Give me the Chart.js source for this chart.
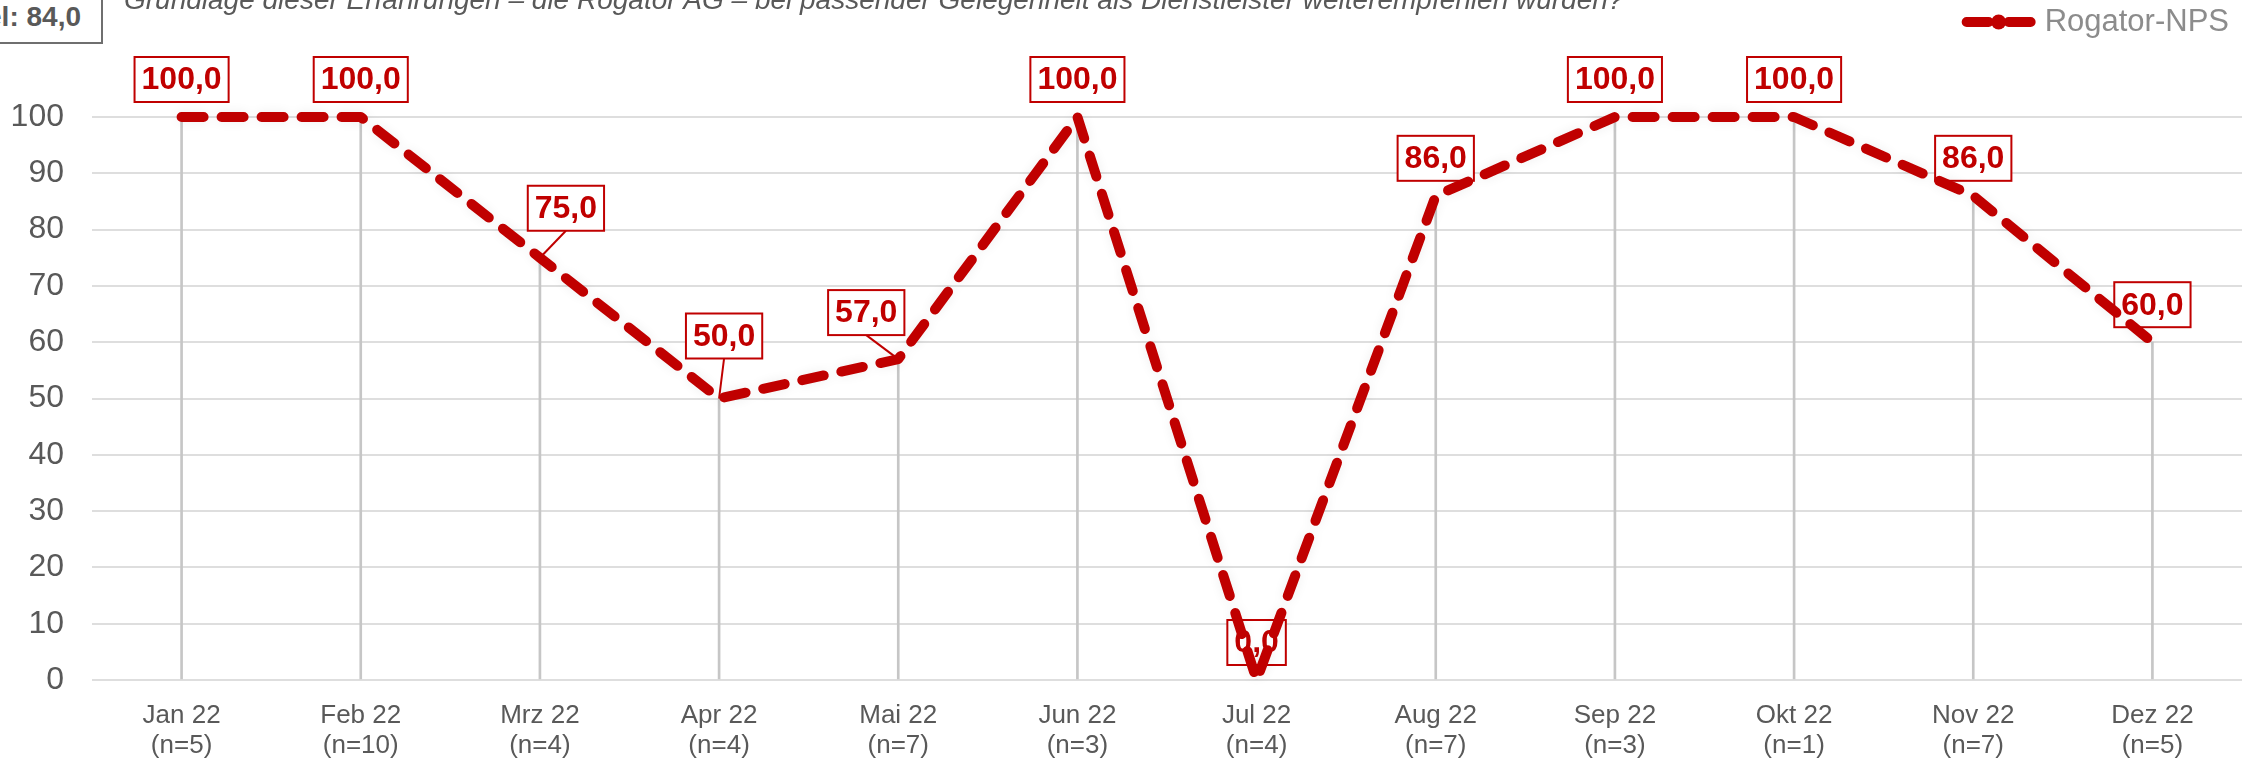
<!DOCTYPE html>
<html lang="de">
<head>
<meta charset="utf-8">
<title>Rogator-NPS 2022</title>
<script src="https://cdn.jsdelivr.net/npm/chart.js@4.4.1/dist/chart.umd.min.js"></script>
<style>
    html, body { margin: 0; padding: 0; background: #fff; overflow: hidden; }
    body { width: 2252px; height: 759px; position: relative; font-family: 'Liberation Sans', Arial, sans-serif; }
    #chartWrap { position: absolute; left: 0; top: 0; width: 2252px; height: 759px; }
    #question {
        position: absolute; left: 124px; top: -14px; white-space: nowrap;
        font-style: italic; font-size: 28px; line-height: 27px; color: #595959;
    }
    #meanBox {
        position: absolute; right: 2149px; top: -6px; height: 50px; box-sizing: border-box;
        border: 2px solid #6f6f6f; background: #fff; padding: 0 20px 0 0;
        font-weight: bold; font-size: 28px; line-height: 41px; color: #595959; white-space: nowrap;
    }
</style>
</head>
<body>
<div id="chartWrap"><canvas id="npsChart"></canvas></div>
<div id="question">Grundlage dieser Erfahrungen – die Rogator AG – bei passender Gelegenheit als Dienstleister weiterempfehlen würden?</div>
<div id="meanBox">Mittel: 84,0</div>
<script>
const months = ['Jan 22', 'Feb 22', 'Mrz 22', 'Apr 22', 'Mai 22', 'Jun 22', 'Jul 22', 'Aug 22', 'Sep 22', 'Okt 22', 'Nov 22', 'Dez 22'];
const sampleSizes = [5, 10, 4, 4, 7, 3, 4, 7, 3, 1, 7, 5];
const npsValues = [100, 100, 75, 50, 57, 100, 0, 86, 100, 100, 86, 60];
const seriesName = 'Rogator-NPS';

const RED = '#c00000';
const FONT = "'Liberation Sans', Arial, sans-serif";

const fmt = v => v.toFixed(1).replace('.', ',');

// labels that sit beside the point get a leader line
const labelNudges = {
    2: { dx: 26, gap: 27 },
    3: { dx: 5, gap: 40 },
    4: { dx: -32, gap: 24 }
};

const valueBoxes = {
    id: 'valueBoxes',
    beforeDatasetDraw(chart, args) {
        if (chart.data.datasets[args.index].type !== 'line') return;
        const ctx = chart.ctx;
        ctx.save();
        ctx.font = `bold 32px ${FONT}`;
        ctx.textAlign = 'center';
        ctx.textBaseline = 'middle';
        args.meta.data.forEach((pt, i) => {
            const nudge = labelNudges[i] || { dx: 0, gap: 15 };
            const text = fmt(npsValues[i]);
            const w = ctx.measureText(text).width + 14;
            const h = 45;
            const cx = pt.x + nudge.dx;
            const bottom = pt.y - nudge.gap;
            if (labelNudges[i]) {
                ctx.strokeStyle = RED;
                ctx.lineWidth = 2;
                ctx.beginPath();
                ctx.moveTo(cx, bottom);
                ctx.lineTo(pt.x, pt.y);
                ctx.stroke();
            }
            ctx.fillStyle = '#fff';
            ctx.fillRect(cx - w / 2, bottom - h, w, h);
            ctx.strokeStyle = RED;
            ctx.lineWidth = 2;
            ctx.strokeRect(cx - w / 2, bottom - h, w, h);
            ctx.fillStyle = RED;
            ctx.fillText(text, cx, bottom - h / 2 + 1);
        });
        ctx.restore();
        // soft halo around the dashed line
        ctx.save();
        ctx.shadowColor = 'rgba(0,0,0,0.07)';
        ctx.shadowBlur = 12;
    },
    afterDatasetDraw(chart, args) {
        if (chart.data.datasets[args.index].type !== 'line') return;
        chart.ctx.restore();
    }
};

const sideLegend = {
    id: 'sideLegend',
    afterDraw(chart) {
        const ctx = chart.ctx;
        const ds = chart.data.datasets.find(d => d.type === 'line');
        ctx.save();
        ctx.font = `31px ${FONT}`;
        ctx.fillStyle = '#8c8c8c';
        ctx.textAlign = 'right';
        ctx.textBaseline = 'middle';
        const right = chart.width - 23;
        const y = 22;
        ctx.fillText(ds.label, right, y);
        const textLeft = right - ctx.measureText(ds.label).width;
        const x1 = textLeft - 14;
        const x0 = x1 - 64;
        ctx.strokeStyle = ds.borderColor;
        ctx.lineWidth = 10;
        ctx.lineCap = 'round';
        ctx.beginPath();
        ctx.moveTo(x0, y); ctx.lineTo(x0 + 22, y);
        ctx.moveTo(x1 - 22, y); ctx.lineTo(x1, y);
        ctx.stroke();
        ctx.fillStyle = ds.borderColor;
        ctx.beginPath();
        ctx.arc((x0 + x1) / 2, y, 7.5, 0, Math.PI * 2);
        ctx.fill();
        ctx.restore();
    }
};

document.addEventListener('DOMContentLoaded', () => {
    const ctx = document.getElementById('npsChart').getContext('2d');

    new Chart(ctx, {
        data: {
            labels: months.map((m, i) => [m, `(n=${sampleSizes[i]})`]),
            datasets: [
                {
                    type: 'line',
                    label: seriesName,
                    data: npsValues,
                    borderColor: RED,
                    backgroundColor: RED,
                    borderWidth: 10,
                    borderDash: [22, 18],
                    borderCapStyle: 'round',
                    borderJoinStyle: 'round',
                    tension: 0,
                    pointRadius: 0,
                    pointHoverRadius: 0,
                    clip: false,
                    order: 0
                },
                {
                    // drop lines from each point to the axis
                    type: 'bar',
                    label: 'drop',
                    data: npsValues,
                    backgroundColor: '#c6c6c6',
                    barThickness: 2,
                    order: 1
                }
            ]
        },
        options: {
            responsive: true,
            maintainAspectRatio: false,
            animation: false,
            devicePixelRatio: 1,
            layout: { padding: { left: 0, right: 10, top: 117, bottom: 0 } },
            plugins: {
                legend: { display: false },
                tooltip: { enabled: false }
            },
            scales: {
                x: {
                    offset: true,
                    grid: { display: false },
                    border: { display: false },
                    ticks: {
                        color: '#595959',
                        font: { family: FONT, size: 26, lineHeight: 1.15 },
                        padding: 13,
                        maxRotation: 0,
                        autoSkip: false
                    },
                    afterFit(scale) { scale.height = 79; }
                },
                y: {
                    min: 0,
                    max: 100,
                    grid: { color: '#dedede', lineWidth: 2, drawTicks: false },
                    border: { display: false },
                    ticks: {
                        stepSize: 10,
                        color: '#595959',
                        font: { family: FONT, size: 32 },
                        padding: 28
                    },
                    afterFit(scale) { scale.width = 92; }
                }
            }
        },
        plugins: [valueBoxes, sideLegend]
    });
});
</script>
</body>
</html>
